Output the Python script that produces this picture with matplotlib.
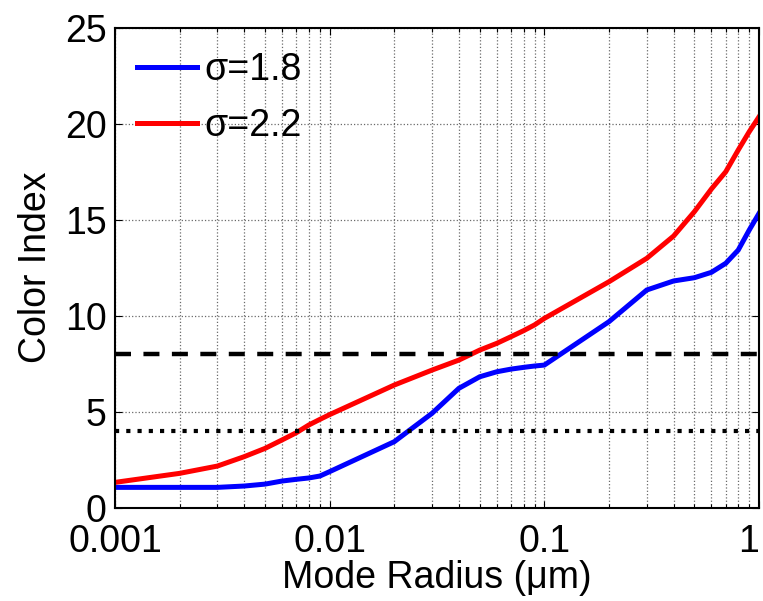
import numpy as np
import matplotlib
matplotlib.use("Agg")
import matplotlib.pyplot as plt
from matplotlib.ticker import LogLocator, FixedLocator, NullFormatter

plt.rcParams['font.family'] = ['Liberation Sans', 'DejaVu Sans']

# mode radius (um) sampled at 1,2,...,9 x each decade
radius = [0.001, 0.002, 0.003, 0.004, 0.005, 0.006, 0.007, 0.008, 0.009,
          0.01, 0.02, 0.03, 0.04, 0.05, 0.06, 0.07, 0.08, 0.09,
          0.1, 0.2, 0.3, 0.4, 0.5, 0.6, 0.7, 0.8, 0.9, 1.0]

ci_s18 = [1.06, 1.06, 1.06, 1.13, 1.23, 1.39, 1.48, 1.55, 1.65,
          1.88, 3.44, 4.92, 6.22, 6.82, 7.08, 7.22, 7.31, 7.38,
          7.43, 9.69, 11.34, 11.81, 11.98, 12.26, 12.73, 13.42, 14.46, 15.33]

ci_s22 = [1.32, 1.79, 2.17, 2.66, 3.09, 3.53, 3.91, 4.31, 4.60,
          4.85, 6.39, 7.17, 7.69, 8.21, 8.56, 8.91, 9.22, 9.52,
          9.86, 11.77, 12.99, 14.15, 15.42, 16.6, 17.5, 18.63, 19.58, 20.36]

thresh_dash = 8
thresh_dot = 4

fig = plt.figure(figsize=(7.63, 6.01), dpi=100)
ax = fig.add_axes([0.1507, 0.1552, 0.8441, 0.7987])

ax.plot(radius, ci_s18, color='#0000ff', lw=3.6, label='σ=1.8', solid_joinstyle='miter')
ax.plot(radius, ci_s22, color='#ff0000', lw=3.6, label='σ=2.2', solid_joinstyle='miter')
ax.axhline(thresh_dash, color='black', lw=3.2, linestyle=(0, (3.6, 2.8)))
ax.axhline(thresh_dot, color='black', lw=3.0, linestyle=(0, (1.0, 1.7)))

ax.set_xscale('log')
ax.set_xlim(0.001, 1)
ax.set_ylim(0, 25)
ax.xaxis.set_major_locator(FixedLocator([0.001, 0.01, 0.1, 1]))
ax.set_xticklabels(['0.001', '0.01', '0.1', '1'])
ax.get_xticklabels()[-1].set_horizontalalignment('right')
ax.xaxis.set_minor_locator(LogLocator(base=10, subs=np.arange(2, 10)))
ax.xaxis.set_minor_formatter(NullFormatter())
ax.set_yticks([0, 5, 10, 15, 20, 25])

ax.grid(True, which='major', axis='both', color='#6a6a6a', linestyle=':', lw=0.9)
ax.grid(True, which='minor', axis='x', color='#6a6a6a', linestyle=':', lw=0.9)

ax.tick_params(which='both', direction='in', top=True, right=True, labelsize=27, width=0.8)
ax.tick_params(which='major', length=5)
ax.tick_params(axis='y', which='major', pad=6)
ax.tick_params(axis='x', which='major', pad=12)
ax.tick_params(which='minor', length=3)
for s in ax.spines.values():
    s.set_linewidth(1.5)

ax.set_xlabel('Mode Radius (μm)', fontsize=27, labelpad=0)
ax.set_ylabel('Color Index', fontsize=27, labelpad=8)

leg = ax.legend(loc='upper left', bbox_to_anchor=(0.034, 0.95), frameon=False,
                fontsize=27, handlelength=1.6, handletextpad=0.2,
                borderpad=0, borderaxespad=0, labelspacing=0.55)

fig.savefig('out.png', dpi=100)
